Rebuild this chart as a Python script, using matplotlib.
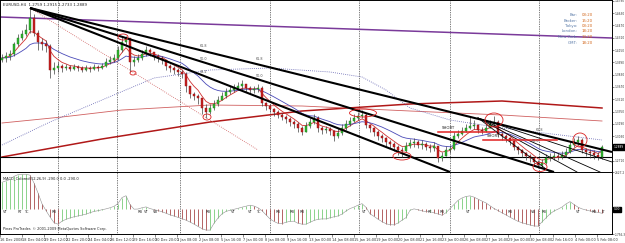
import matplotlib
matplotlib.use("Agg")
import matplotlib.pyplot as plt
from matplotlib.patches import Ellipse
import numpy as np
import pandas as pd

# EURUSD H4, 16 Dec 2008 - 5 Feb 2009
first_open = 1.4020
closes = [1.4046, 1.4072, 1.4098, 1.4228, 1.4306, 1.4358, 1.4410, 1.4566, 1.4371, 1.4254,
          1.4228, 1.4202, 1.3890, 1.3916, 1.3942, 1.3916, 1.3929, 1.3903, 1.3929, 1.3916,
          1.3890, 1.3916, 1.3903, 1.3929, 1.3916, 1.3942, 1.3994, 1.4020, 1.4046, 1.4150,
          1.4254, 1.4306, 1.3994, 1.4020, 1.4046, 1.4098, 1.4150, 1.4124, 1.4072, 1.4046,
          1.4020, 1.3942, 1.3916, 1.3890, 1.3864, 1.3838, 1.3682, 1.3578, 1.3552, 1.3526,
          1.3396, 1.3344, 1.3396, 1.3448, 1.3500, 1.3552, 1.3604, 1.3630, 1.3656, 1.3682,
          1.3708, 1.3656, 1.3630, 1.3643, 1.3656, 1.3461, 1.3422, 1.3383, 1.3344, 1.3305,
          1.3279, 1.3253, 1.3214, 1.3188, 1.3136, 1.3084, 1.3162, 1.3214, 1.3266, 1.3136,
          1.3110, 1.3123, 1.3097, 1.3032, 1.3071, 1.3136, 1.3188, 1.3227, 1.3266, 1.3292,
          1.3305, 1.3175, 1.3136, 1.3084, 1.3032, 1.3006, 1.2954, 1.2928, 1.2889, 1.2850,
          1.2837, 1.2902, 1.2941, 1.2954, 1.2915, 1.2928, 1.2889, 1.2876, 1.2902, 1.2746,
          1.2772, 1.2850, 1.2863, 1.3032, 1.3058, 1.3097, 1.3136, 1.3162, 1.3175, 1.3110,
          1.3097, 1.3136, 1.3188, 1.3214, 1.3058, 1.3032, 1.3006, 1.2967, 1.2889, 1.2850,
          1.2811, 1.2772, 1.2746, 1.2694, 1.2655, 1.2681, 1.2746, 1.2759, 1.2772, 1.2759,
          1.2785, 1.2824, 1.2915, 1.2954, 1.2980, 1.2850, 1.2824, 1.2811, 1.2785, 1.2759,
          1.2889]
highs = [1.4098, 1.4124, 1.4150, 1.4254, 1.4358, 1.4410, 1.4488, 1.4696, 1.4618, 1.4410,
         1.4306, 1.4280, 1.4228, 1.3994, 1.3994, 1.3968, 1.3968, 1.3955, 1.3968, 1.3955,
         1.3942, 1.3955, 1.3942, 1.3968, 1.3955, 1.3981, 1.4046, 1.4072, 1.4098, 1.4202,
         1.4332, 1.4332, 1.4306, 1.4072, 1.4098, 1.4150, 1.4202, 1.4176, 1.4124, 1.4098,
         1.4072, 1.4020, 1.3968, 1.3942, 1.3916, 1.3890, 1.3864, 1.3682, 1.3604, 1.3578,
         1.3526, 1.3448, 1.3448, 1.3500, 1.3552, 1.3604, 1.3656, 1.3682, 1.3708, 1.3734,
         1.3760, 1.3708, 1.3682, 1.3682, 1.3708, 1.3682, 1.3474, 1.3448, 1.3396, 1.3370,
         1.3331, 1.3305, 1.3279, 1.3240, 1.3214, 1.3162, 1.3214, 1.3266, 1.3318, 1.3292,
         1.3162, 1.3162, 1.3149, 1.3110, 1.3136, 1.3188, 1.3240, 1.3279, 1.3318, 1.3344,
         1.3370, 1.3331, 1.3188, 1.3149, 1.3110, 1.3058, 1.3019, 1.2980, 1.2954, 1.2915,
         1.2889, 1.2954, 1.2993, 1.3006, 1.2980, 1.2980, 1.2954, 1.2928, 1.2954, 1.2902,
         1.2824, 1.2902, 1.2915, 1.3084, 1.3110, 1.3149, 1.3188, 1.3279, 1.3240, 1.3188,
         1.3149, 1.3188, 1.3240, 1.3292, 1.3240, 1.3084, 1.3058, 1.3019, 1.2980, 1.2902,
         1.2863, 1.2824, 1.2798, 1.2759, 1.2720, 1.2733, 1.2798, 1.2811, 1.2824, 1.2811,
         1.2837, 1.2876, 1.2967, 1.3006, 1.3032, 1.3006, 1.2876, 1.2863, 1.2850, 1.2824,
         1.2915]
lows = [1.3994, 1.3994, 1.4020, 1.4072, 1.4202, 1.4280, 1.4332, 1.4371, 1.4332, 1.4150,
        1.4150, 1.4124, 1.3786, 1.3838, 1.3864, 1.3864, 1.3890, 1.3877, 1.3890, 1.3877,
        1.3864, 1.3877, 1.3864, 1.3890, 1.3877, 1.3903, 1.3929, 1.3968, 1.3994, 1.4020,
        1.4124, 1.4202, 1.3864, 1.3942, 1.3994, 1.4020, 1.4072, 1.4072, 1.4020, 1.3994,
        1.3968, 1.3890, 1.3864, 1.3838, 1.3812, 1.3786, 1.3604, 1.3526, 1.3500, 1.3448,
        1.3318, 1.3266, 1.3318, 1.3370, 1.3422, 1.3500, 1.3526, 1.3578, 1.3604, 1.3630,
        1.3630, 1.3604, 1.3578, 1.3591, 1.3604, 1.3422, 1.3370, 1.3344, 1.3292, 1.3266,
        1.3240, 1.3201, 1.3162, 1.3136, 1.3084, 1.3045, 1.3084, 1.3136, 1.3188, 1.3084,
        1.3058, 1.3071, 1.3045, 1.2967, 1.3006, 1.3045, 1.3110, 1.3162, 1.3214, 1.3240,
        1.3266, 1.3136, 1.3084, 1.3032, 1.2980, 1.2954, 1.2902, 1.2876, 1.2837, 1.2785,
        1.2759, 1.2824, 1.2876, 1.2889, 1.2876, 1.2863, 1.2850, 1.2824, 1.2837, 1.2694,
        1.2707, 1.2772, 1.2811, 1.2850, 1.3006, 1.3045, 1.3084, 1.3123, 1.3123, 1.3071,
        1.3058, 1.3084, 1.3136, 1.3162, 1.3019, 1.2980, 1.2954, 1.2915, 1.2850, 1.2798,
        1.2759, 1.2720, 1.2694, 1.2642, 1.2616, 1.2616, 1.2668, 1.2707, 1.2720, 1.2720,
        1.2733, 1.2759, 1.2811, 1.2889, 1.2915, 1.2811, 1.2772, 1.2746, 1.2733, 1.2720,
        1.2733]
macd = [1900, 2000, 2100, 2320, 2440, 2470, 2470, 2400, 1850, 1150,
        380, -100, -550, -950, -1060, -850, -720, -620, -540, -480,
        -420, -350, -250, -160, -110, -40, 20, 100, 200, 400,
        820, 950, 330, 0, 10, 100, 160, 40, -30, -100,
        -180, -290, -400, -490, -580, -670, -780, -910, -1060, -1220,
        -1380, -1480, -1480, -1000, -630, -330, -160, -80, -10, 60,
        140, 210, 280, 220, 100, -110, -400, -690, -870, -1000,
        -1020, -930, -860, -850, -1000, -1060, -1060, -930, -800, -720,
        -690, -690, -610, -540, -480, -350, -130, 40, 150, 280,
        390, 130, -330, -510, -710, -880, -1030, -1100, -1110, -980,
        -780, -600, -80, 20, -40, -120, -180, -180, -260, -340,
        -430, -250, 40, 330, 620, 790, 900, 940, 850, 710,
        570, 440, 240, 50, -100, -260, -410, -570, -720, -860,
        -960, -1040, -1120, -1190, -1200, -900, -620, -330, -130, 0,
        150, 370, 530, 330, 140, 20, -60, -130, -180, -230,
        -290]

time_labels = ["16 Dec 2008", "18 Dec 04:00", "19 Dec 12:00", "22 Dec 20:00", "24 Dec 04:00",
               "26 Dec 12:00", "29 Dec 16:00", "30 Dec 20:00", "1 Jan 08:00", "2 Jan 08:00",
               "5 Jan 16:00", "7 Jan 00:00", "8 Jan 08:00", "9 Jan 16:00", "13 Jan 00:00",
               "14 Jan 08:00", "15 Jan 16:00", "19 Jan 00:00", "20 Jan 08:00", "21 Jan 16:00",
               "23 Jan 00:00", "26 Jan 08:00", "27 Jan 16:00", "29 Jan 00:00", "30 Jan 08:00",
               "2 Feb 16:00", "4 Feb 00:00", "5 Feb 08:00"]
price_ticks = [1.4790, 1.4630, 1.4470, 1.4310, 1.4150, 1.3990, 1.3830, 1.3670, 1.3510,
               1.3350, 1.3190, 1.3030, 1.2870, 1.2710]
week_starts = [14, 28.75, 44.5, 67, 89.25, 112, 134.25]

# long averages drawn on the chart (bar index -> price)
slow_bars = [0, 25, 52, 75, 102, 125, 150]
slow_ma = [1.2759, 1.2993, 1.3214, 1.3357, 1.3448, 1.3487, 1.3396]
mid_bars = [0, 15, 30, 52, 75, 102, 125, 150]
mid_ma = [1.3201, 1.3279, 1.3370, 1.3435, 1.3422, 1.3357, 1.3305, 1.3227]
dot_bars = [0, 12, 25, 38, 52, 67, 82, 90, 96, 102, 112, 125, 150]
dot_ma = [1.2915, 1.3214, 1.3500, 1.3786, 1.3890, 1.3916, 1.3864, 1.3799, 1.3630,
          1.3396, 1.3240, 1.3136, 1.2980]

support_level = 1.2759
purple_line = ([-0.5, 152.5], [1.4579, 1.4306])
fan_ends = [(152.5, 1.2824), (138, 1.2564), (112, 1.2564)]
fan2_start = (119, 1.3266)
fan2_ends = [(137, 1.2564), (143.75, 1.2564), (149.5, 1.2564), (152.5, 1.2694)]
shorts = [(109, 123.25, 1.3084), (120.25, 138.75, 1.2980)]
circles = [(30.25, 1.4319, 2.5, 0.0078), (32.75, 1.3851, 1.5, 0.0052),
           (51.25, 1.3279, 2.0, 0.0078), (90.25, 1.3331, 6.75, 0.0104),
           (100, 1.2772, 4.5, 0.0104), (123, 1.3240, 4.5, 0.0182),
           (134.5, 1.2629, 3.5, 0.0117), (144.5, 1.2980, 3.5, 0.0182)]
fib_texts = [(49.5, 1.4189, "61.8"), (49.5, 1.4020, "50.0"), (49.5, 1.3851, "38.2"),
             (63.5, 1.4020, "61.8"), (63.5, 1.3799, "50.0"),
             (133.5, 1.3097, "61.8"), (132.5, 1.2954, "50.0")]
macd_marks = [(0.3, "VT"), (3.8, "RT"), (5.5, "TC"), (12.5, "RB"), (33.8, "RB"), (35.5, "VT"),
              (37.8, "VB"), (50.8, "RB"), (57.3, "VT"), (61.5, "VT"), (63.5, "TC"),
              (68.3, "RB"), (72, "RB"), (74.5, "RB"), (90, "VT"), (106.3, "RT"), (109.5, "RB"),
              (116, "VT"), (126.5, "RB"), (132.3, "VB"), (135, "RB"), (143.5, "VT"),
              (147.5, "RB"), (150, "LT")]
clock_names = ["Bar:", "Broker:", "Tokyo:", "London:", "New York:", "GMT:"]
clock_times = ["03:20", "15:20", "03:20", "18:20", "13:20", "18:20"]

n = len(closes)
bars = np.arange(n)
o = np.array([first_open] + closes[:-1])
c = np.array(closes)
h = np.array(highs)
l = np.array(lows)
m = np.array(macd, dtype=float)

fig = plt.figure(figsize=(6.25, 2.43), dpi=100)
ax = fig.add_axes([0.0, 71 / 243, 612 / 625, 172 / 243])
ax2 = fig.add_axes([0.0, 9 / 243, 612 / 625, 62 / 243])

# weekly separators
for a in (ax, ax2):
    for w in week_starts:
        a.axvline(w, color="black", ls=(0, (1, 1.5)), lw=0.5, zorder=1)

# long averages and drawn lines
ax.plot(slow_bars, slow_ma, color="#b01818", lw=1.1, zorder=2)
ax.plot(mid_bars, mid_ma, color="#d06060", lw=0.6, zorder=2)
ax.plot(dot_bars, dot_ma, color="#6060b0", lw=0.6, ls=(0, (1, 1.5)), zorder=2)
ax.plot(*purple_line, color="#7a3a9a", lw=1.1, zorder=2)
ax.plot([7, 64], [highs[7], 1.2850], color="#d06060", lw=0.6, ls=(0, (1, 1.5)), zorder=2)
for x1, y1 in fan_ends:
    ax.plot([7, x1], [highs[7], y1], color="black", lw=1.5, zorder=5, solid_capstyle="butt")
for x1, y1 in fan2_ends:
    ax.plot([fan2_start[0], x1], [fan2_start[1], y1], color="black", lw=0.6, zorder=5)
ax.axhline(support_level, color="black", lw=0.8, zorder=2)

# short moving averages from the closes
s = pd.Series(closes)
ax.plot(bars, s.ewm(span=5, adjust=False).mean(), color="#d03030", lw=0.6, zorder=3)
ax.plot(bars, s.ewm(span=15, adjust=False).mean(), color="#4a4ab8", lw=0.6, zorder=3)

# candles
up = c >= o
ax.vlines(bars, l, h, color="#404040", lw=0.5, zorder=4)
ax.bar(bars[up], np.maximum((c - o)[up], 0.0006), bottom=o[up], width=0.6,
       color="#2fb52f", edgecolor="#1e7a1e", lw=0.3, zorder=4)
ax.bar(bars[~up], (o - c)[~up], bottom=c[~up], width=0.6,
       color="#c82020", edgecolor="#8a1010", lw=0.3, zorder=4)

# annotations
for x0, x1, lvl in shorts:
    ax.plot([x0, x1], [lvl, lvl], color="#e02020", lw=1.1, zorder=6)
    ax.text(x0 + 1, lvl + 0.0045, "SHORT", fontsize=2.8, color="#202020", zorder=6)
for cx, cy, w, hh in circles:
    ax.add_patch(Ellipse((cx, cy), w, hh, fill=False, ec="#d82020", lw=0.6, zorder=6))
for fx, fy, t in fib_texts:
    ax.text(fx, fy, t, fontsize=2.4, color="#505050", zorder=6)

# right price scale; the tick under the current-price box is hidden as in MT4
last = closes[-1]
shown_ticks = [p for p in price_ticks if abs(p - last) > 0.004]
ax.set_xlim(-0.5, 152.5)
ax.set_ylim(1.2564, 1.4800)
ax.yaxis.tick_right()
ax.set_yticks(shown_ticks)
ax.set_yticklabels([f"{p:.4f}" for p in shown_ticks])
ax.tick_params(axis="y", labelsize=2.1, length=1.2, width=0.4, pad=0.6, colors="#303030")
ax.set_xticks([])
ax.text(1.003, (last - 1.2564) / (1.4800 - 1.2564), f"{last:.4f}", transform=ax.transAxes,
        fontsize=2.1, color="white", va="center", ha="left", clip_on=False, zorder=10,
        bbox=dict(boxstyle="square,pad=0.2", fc="black", ec="black"))
ax.text(0.005, 0.985, f"EURUSD,H4  {o[-1]:.4f} {h[-1]:.4f} {l[-1]:.4f} {c[-1]:.4f}",
        transform=ax.transAxes, fontsize=2.8, va="top", color="#202020")

# MACD panel
cols = ["#78cc78" if i > 0 and m[i] >= m[i - 1] else "#a84a4a" for i in range(n)]
cols[0] = "#78cc78"
ax2.vlines(bars, 0, m, colors=cols, lw=0.6, zorder=3)
ax2.plot(bars, m, color="#909090", lw=0.4, zorder=4)
for mx, t in macd_marks:
    ax2.text(mx, -220, t, fontsize=2.6, color="#303030", va="center", zorder=5)
ax2.set_xlim(-0.5, 152.5)
ax2.set_ylim(-1756.3, 2627.2)
ax2.yaxis.tick_right()
ax2.set_yticks([2627.2, -1756.3])
ax2.set_yticklabels(["2627.2", "-1756.3"])
ax2.tick_params(axis="y", labelsize=2.1, length=1.2, width=0.4, pad=0.6, colors="#303030")
ax2.text(1.003, 1756.3 / (2627.2 + 1756.3), "0.00", transform=ax2.transAxes, fontsize=2.1,
         color="white", va="center", ha="left", clip_on=False, zorder=10,
         bbox=dict(boxstyle="square,pad=0.2", fc="black", ec="black"))
ax2.text(0.005, 0.93, f"MACD_Colored(12,26,9) {m[-1]:.1f} 0.0 {m[-1]:.1f}",
         transform=ax2.transAxes, fontsize=2.6, va="top", color="#202020")
ax2.text(0.005, 0.05, "Pinas ProTrader, \u00a9 2001-2009 MetaQuotes Software Corp.",
         transform=ax2.transAxes, fontsize=2.5, va="bottom", color="#202020")
tick_pos = np.arange(len(time_labels)) * 5.525 - 0.5
ax2.set_xticks(tick_pos)
ax2.set_xticklabels(time_labels, ha="left")
ax2.tick_params(axis="x", labelsize=2.5, length=2, width=0.4, pad=1, colors="#303030")

for a in (ax, ax2):
    for sp in a.spines.values():
        sp.set_linewidth(0.7)
        sp.set_color("black")

# session clock
for k, (nm, tm) in enumerate(zip(clock_names, clock_times)):
    yy = 1 - (15 + 5.5 * k) / 243
    fig.text(577 / 625, yy, nm, fontsize=2.8, color="#5a7aa8", ha="right", va="center")
    fig.text(582 / 625, yy, tm, fontsize=2.8, color="#d2691e", ha="left", va="center")

fig.savefig("out.png", dpi=100)
